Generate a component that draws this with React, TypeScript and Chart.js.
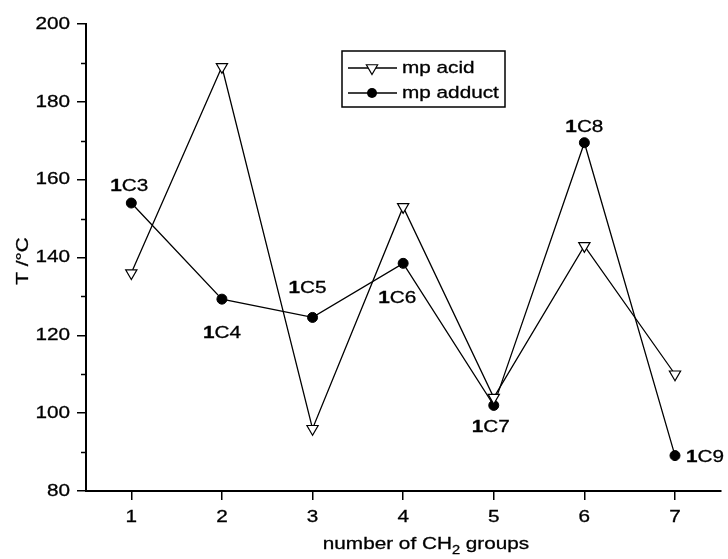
import { useEffect, useRef } from 'react';
import { Chart, registerables } from 'chart.js';

Chart.register(...registerables);

const xValues = [1, 2, 3, 4, 5, 6, 7];
const mpAcid = [136, 189, 96, 153, 104, 143, 110];
const mpAdduct = [154, 129.3, 124.6, 138.5, 102, 169.5, 89.1];
const adductLabels = ['1C3', '1C4', '1C5', '1C6', '1C7', '1C8', '1C9'];
const xTicks = [1, 2, 3, 4, 5, 6, 7];
const yTicks = [80, 100, 120, 140, 160, 180, 200];
const yMinorTicks = [90, 110, 130, 150, 170, 190];

const FONT = "'Liberation Sans', Arial, sans-serif";
const SX = 1.22; // horizontal stretch of the reference lettering
const FS = 17;

// label placement relative to the point (dx, dy of text center / left edge)
const labelPlacement = [
  { dx: -2, dy: -17, align: 'center' },
  { dx: 0, dy: 34, align: 'center' },
  { dx: -5, dy: -29, align: 'center' },
  { dx: -6, dy: 35, align: 'center' },
  { dx: -3, dy: 22, align: 'center' },
  { dx: 0, dy: -15, align: 'center' },
  { dx: 11, dy: 2, align: 'left' },
];

function textW(ctx: CanvasRenderingContext2D, t: string, font: string) {
  ctx.font = font;
  return ctx.measureText(t).width * SX;
}

function drawText(
  ctx: CanvasRenderingContext2D,
  t: string,
  x: number,
  y: number,
  align: CanvasTextAlign,
  baseline: CanvasTextBaseline,
  font: string
) {
  ctx.save();
  ctx.translate(x, y);
  ctx.scale(SX, 1);
  ctx.font = font;
  ctx.textAlign = align;
  ctx.textBaseline = baseline;
  ctx.fillStyle = '#000';
  ctx.strokeStyle = '#000';
  ctx.lineWidth = 0.3;
  ctx.fillText(t, 0, 0);
  ctx.strokeText(t, 0, 0);
  ctx.restore();
}

const overlay = {
  id: 'overlay',
  afterDraw(chart: any) {
    const { ctx, chartArea } = chart;
    const x = chart.scales.x;
    const y = chart.scales.y;
    const reg = `${FS}px ${FONT}`;
    const bold = `bold ${FS}px ${FONT}`;
    ctx.save();
    // minor ticks
    ctx.strokeStyle = '#000';
    ctx.lineWidth = 1.5;
    yMinorTicks.forEach((v) => {
      const py = Math.round(y.getPixelForValue(v)) + 0.5;
      ctx.beginPath();
      ctx.moveTo(chartArea.left - 5, py);
      ctx.lineTo(chartArea.left, py);
      ctx.stroke();
    });

    // tick labels
    yTicks.forEach((v) => {
      drawText(ctx, String(v), chartArea.left - 16, y.getPixelForValue(v), 'right', 'middle', reg);
    });
    xTicks.forEach((v) => {
      drawText(ctx, String(v), x.getPixelForValue(v), chartArea.bottom + 26, 'center', 'middle', reg);
    });

    // point labels
    const meta = chart.getDatasetMeta(1);
    adductLabels.forEach((lab, i) => {
      const pt = meta.data[i];
      const pl = labelPlacement[i];
      const first = lab.slice(0, 1);
      const rest = lab.slice(1);
      const w1 = textW(ctx, first, bold);
      const w2 = textW(ctx, rest, reg);
      let sx = pt.x + pl.dx;
      if (pl.align === 'center') sx -= (w1 + w2) / 2;
      const sy = pt.y + pl.dy;
      drawText(ctx, first, sx, sy, 'left', 'middle', bold);
      drawText(ctx, rest, sx + w1, sy, 'left', 'middle', reg);
    });

    // y title
    ctx.save();
    ctx.translate(28, 261);
    ctx.rotate(-Math.PI / 2);
    drawText(ctx, 'T /°C', 0, 0, 'center', 'alphabetic', reg);
    ctx.restore();

    // x title with subscript
    {
      const a = 'number of CH';
      const sub = '2';
      const b = ' groups';
      const subFont = `12px ${FONT}`;
      const wa = textW(ctx, a, reg);
      const ws = textW(ctx, sub, subFont);
      const wb = textW(ctx, b, reg);
      const sx = 426 - (wa + ws + wb) / 2;
      const by = 549;
      drawText(ctx, a, sx, by, 'left', 'alphabetic', reg);
      drawText(ctx, sub, sx + wa, by + 5, 'left', 'alphabetic', subFont);
      drawText(ctx, b, sx + wa + ws, by, 'left', 'alphabetic', reg);
    }

    // legend
    const lx = 342, ly = 51, lw = 163, lh = 56;
    ctx.fillStyle = '#fff';
    ctx.fillRect(lx, ly, lw, lh);
    ctx.strokeStyle = '#000';
    ctx.lineWidth = 1.5;
    ctx.strokeRect(lx, ly, lw, lh);
    const entries = [
      { label: 'mp acid', y: 68, type: 'tri' },
      { label: 'mp adduct', y: 93, type: 'circle' },
    ];
    entries.forEach((e) => {
      ctx.strokeStyle = '#000';
      ctx.lineWidth = 1.3;
      ctx.beginPath();
      ctx.moveTo(348, e.y);
      ctx.lineTo(397, e.y);
      ctx.stroke();
      const cx = 372;
      if (e.type === 'tri') {
        const r = 6.5;
        ctx.beginPath();
        ctx.moveTo(cx, e.y + r);
        ctx.lineTo(cx + r * 0.866, e.y - r * 0.5);
        ctx.lineTo(cx - r * 0.866, e.y - r * 0.5);
        ctx.closePath();
        ctx.fillStyle = '#fff';
        ctx.fill();
        ctx.lineWidth = 1.2;
        ctx.stroke();
      } else {
        ctx.beginPath();
        ctx.arc(cx, e.y, 5, 0, Math.PI * 2);
        ctx.fillStyle = '#000';
        ctx.fill();
      }
      drawText(ctx, e.label, 402, e.y, 'left', 'middle', reg);
    });
    ctx.restore();
  },
};

export default function App() {
  const ref = useRef<HTMLCanvasElement>(null);
  useEffect(() => {
    document.body.style.margin = '0';
    const canvas = ref.current!;
    const chart = new Chart(canvas, {
      type: 'line',
      data: {
        datasets: [
          {
            label: 'mp acid',
            data: xValues.map((x, i) => ({ x, y: mpAcid[i] })),
            borderColor: '#000',
            borderWidth: 1.3,
            pointStyle: 'triangle',
            pointRotation: 180,
            pointRadius: 6.5,
            pointBackgroundColor: '#fff',
            pointBorderColor: '#000',
            pointBorderWidth: 1.2,
            tension: 0,
            fill: false,
          } as any,
          {
            label: 'mp adduct',
            data: xValues.map((x, i) => ({ x, y: mpAdduct[i] })),
            borderColor: '#000',
            borderWidth: 1.3,
            pointStyle: 'circle',
            pointRadius: 5,
            pointBackgroundColor: '#000',
            pointBorderColor: '#000',
            pointBorderWidth: 1,
            tension: 0,
            fill: false,
          } as any,
        ],
      },
      options: {
        responsive: false,
        animation: false,
        devicePixelRatio: 1,
        layout: { padding: { top: 24, right: 7, left: 0, bottom: 0 } },
        plugins: { legend: { display: false }, tooltip: { enabled: false } },
        scales: {
          x: {
            type: 'linear',
            min: 0.5,
            max: 7.5,
            afterBuildTicks: (s: any) => {
              s.ticks = xTicks.map((v) => ({ value: v }));
            },
            afterFit: (s: any) => {
              s.height = 68;
            },
            grid: { drawOnChartArea: false, drawTicks: true, tickLength: 9, color: '#000', lineWidth: 1.5 },
            border: { display: true, color: '#000', width: 2 },
            ticks: { display: false },
          },
          y: {
            type: 'linear',
            min: 80,
            max: 200,
            afterBuildTicks: (s: any) => {
              s.ticks = yTicks.map((v) => ({ value: v }));
            },
            afterFit: (s: any) => {
              s.width = 86;
            },
            grid: { drawOnChartArea: false, drawTicks: true, tickLength: 9, color: '#000', lineWidth: 1.5 },
            border: { display: true, color: '#000', width: 2 },
            ticks: { display: false },
          },
        },
      } as any,
      plugins: [overlay],
    });
    return () => chart.destroy();
  }, []);
  return (
    <div style={{ position: 'absolute', left: 0, top: 0, width: 728, height: 559 }}>
      <canvas ref={ref} width={728} height={559} style={{ display: 'block' }} />
    </div>
  );
}
